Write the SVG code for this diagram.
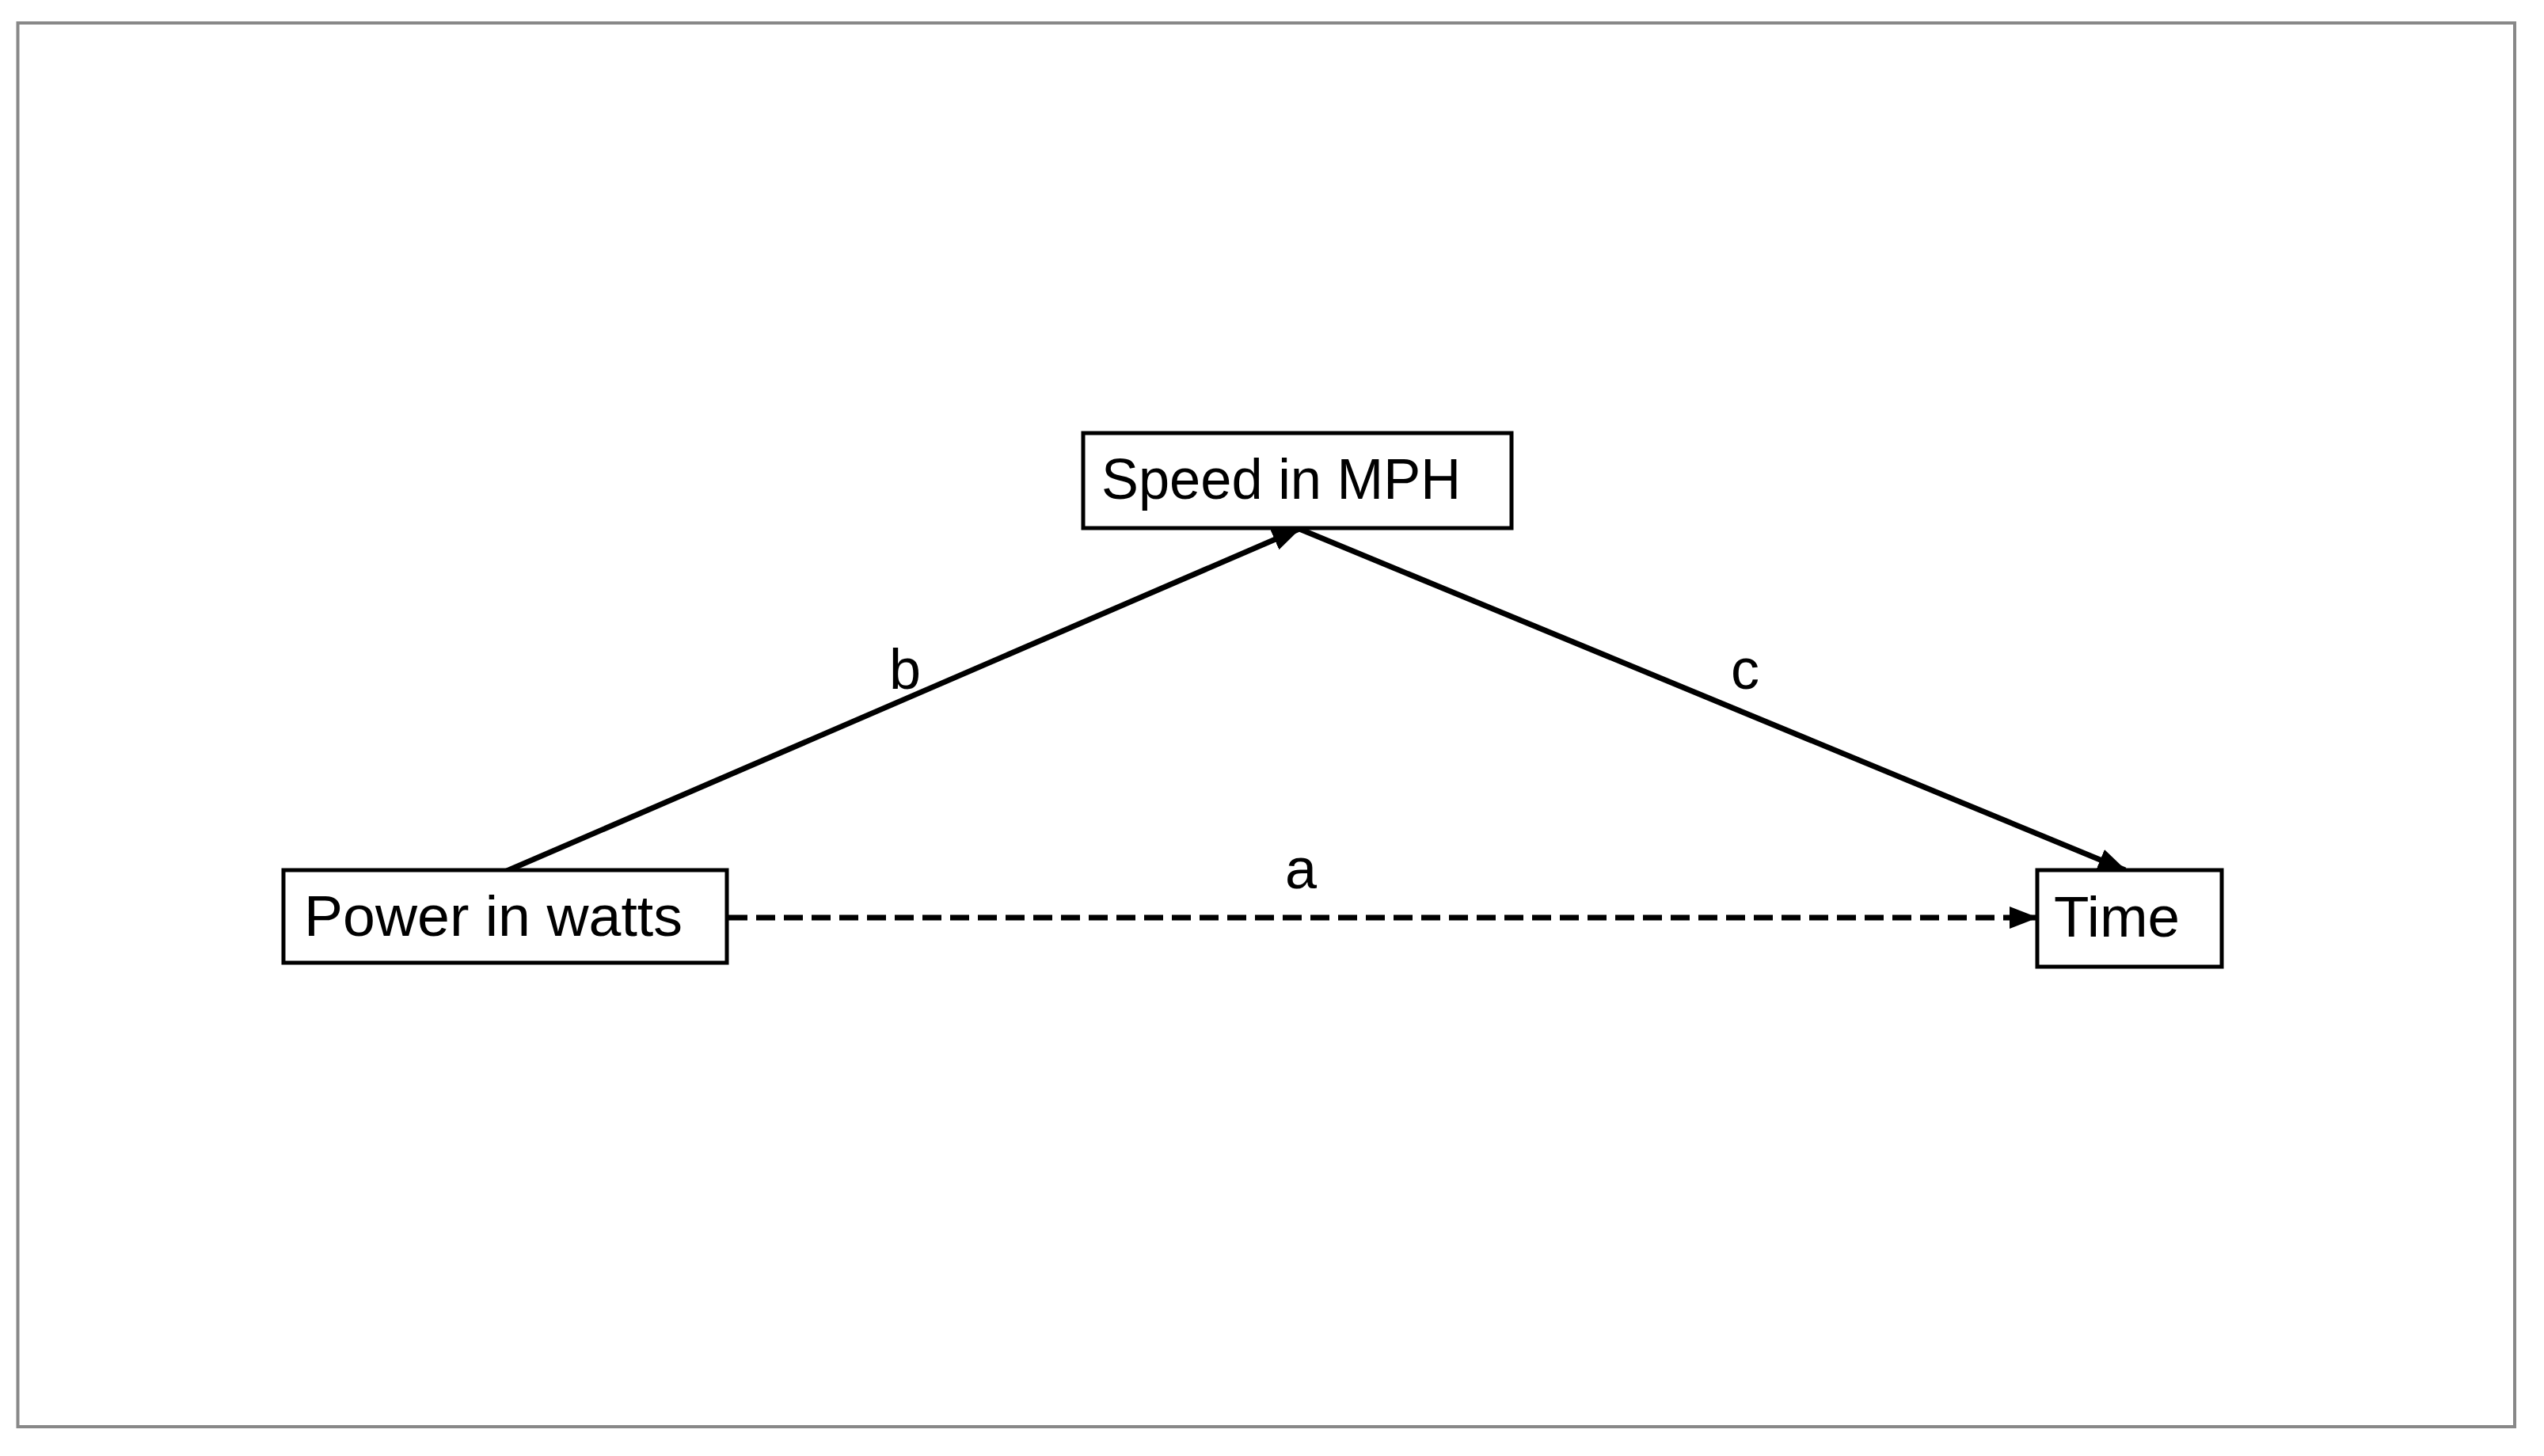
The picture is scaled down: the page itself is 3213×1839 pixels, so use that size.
<svg xmlns="http://www.w3.org/2000/svg" width="3213" height="1839" viewBox="0 0 3213 1839">
<style>
.box{fill:#fff;stroke:#000;stroke-width:5}
.t{font-family:"Liberation Sans",Arial,sans-serif;font-size:72px;fill:#000}
.edge{stroke:#000;stroke-width:7;fill:none}
.dash{stroke-dasharray:24 11}
</style>
<defs>
<marker id="ah" markerUnits="userSpaceOnUse" markerWidth="36" markerHeight="28" refX="34" refY="14" orient="auto">
<path d="M0,0 L36,14 L0,28 z" fill="#000"/>
</marker>
</defs>
<rect x="22.5" y="29" width="3153.5" height="1773" fill="#fff" stroke="#888" stroke-width="4"/>
<g id="connectors">
<line class="edge" x1="640" y1="1100" x2="1641" y2="668" marker-end="url(#ah)"/>
<line class="edge" x1="1641" y1="668" x2="2684" y2="1099" marker-end="url(#ah)"/>
<line class="edge dash" x1="920" y1="1159" x2="2572" y2="1159" marker-end="url(#ah)"/>
<text class="t" x="1123" y="870">b</text>
<text class="t" x="2186" y="870">c</text>
<text class="t" x="1623" y="1122">a</text>
</g>
<g id="power">
<rect class="box" x="358" y="1099" width="560" height="117"/>
<text class="t" x="384" y="1182" textLength="478" lengthAdjust="spacingAndGlyphs">Power in watts</text>
</g>
<g id="speed">
<rect class="box" x="1368" y="547" width="541" height="120"/>
<text class="t" x="1391" y="630" textLength="454" lengthAdjust="spacingAndGlyphs">Speed in MPH</text>
</g>
<g id="time">
<rect class="box" x="2573" y="1099" width="233" height="122"/>
<text class="t" x="2594" y="1183" textLength="159" lengthAdjust="spacingAndGlyphs">Time</text>
</g>
</svg>
